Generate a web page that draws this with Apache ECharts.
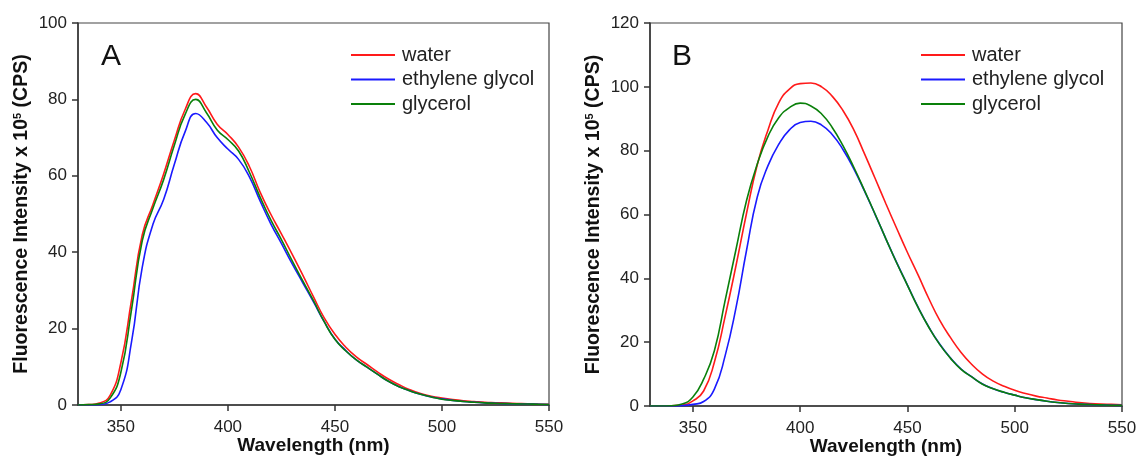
<!DOCTYPE html>
<html>
<head>
<meta charset="utf-8">
<script src="https://cdn.jsdelivr.net/npm/echarts@6/dist/echarts.min.js"></script>
<style>
  html, body { margin: 0; padding: 0; background: #fff; }
  #chart { width: 1136px; height: 456px; }
</style>
</head>
<body>
<div id="chart"></div>
<script>
// wavelength (nm), shared by both panels
var wavelengths = [330, 335, 340, 345, 350, 355, 360, 365, 370, 375, 380, 385, 390, 395, 400,
  405, 410, 415, 420, 425, 430, 435, 440, 445, 450, 455, 460, 465, 470, 475, 480,
  485, 490, 495, 500, 505, 510, 515, 520, 525, 530, 535, 540, 545, 550]
var xTicks = [350, 400, 450, 500, 550]
var seriesNames = ['water', 'ethylene glycol', 'glycerol']

// panel A
var waterA = [0, 0.1, 0.5, 2.5, 11, 27.5, 44.5, 52.5, 60.5, 69.3, 77.3, 81.5, 78, 73.5, 70.8,
  67.5, 62.5, 55.8, 50, 44.8, 39.5, 34, 28.3, 22.8, 18.5, 15.2, 12.6, 10.6, 8.6, 6.8, 5.3,
  4.0, 3.0, 2.3, 1.8, 1.4, 1.1, 0.9, 0.7, 0.6, 0.5, 0.4, 0.3, 0.25, 0.2]
var egA = [0, 0, 0.1, 0.8, 4, 16.5, 36, 47.3, 53.8, 63, 71.5, 76.3, 74, 70, 67,
  64.3, 59.8, 53.5, 47.5, 42.3, 37, 32, 27, 21.8, 17.3, 14.3, 11.8, 9.9, 8.0, 6.2, 4.8,
  3.7, 2.8, 2.1, 1.6, 1.2, 0.9, 0.7, 0.55, 0.45, 0.35, 0.3, 0.25, 0.2, 0.15]
var glyA = [0, 0.1, 0.3, 1.8, 8.5, 25, 43, 51.5, 59, 68, 76, 80, 76.5, 72, 69.5,
  66.5, 61, 54.5, 48.5, 43.3, 37.8, 32.5, 27.3, 21.8, 17.2, 14.2, 11.8, 9.9, 8.0, 6.2, 4.8,
  3.7, 2.8, 2.1, 1.5, 1.2, 0.9, 0.7, 0.55, 0.45, 0.35, 0.3, 0.25, 0.2, 0.15]

// panel B
var waterB = [0, 0, 0.1, 0.3, 1.6, 4.7, 13.7, 28, 43.7, 60.4, 75.6, 86.5, 95, 99.3, 101,
  101.2, 100, 97, 92.5, 86.5, 79, 71.2, 63.3, 55.6, 48.1, 41, 33.6, 26.9, 21.5, 16.8, 13.0,
  10.0, 7.8, 6.2, 4.9, 3.9, 3.1, 2.5, 1.9, 1.5, 1.1, 0.8, 0.6, 0.5, 0.4]
var egB = [0, 0, 0, 0.1, 0.5, 1.4, 5.3, 15.7, 30.5, 48.8, 65.5, 75.3, 82, 86.5, 88.8,
  89.2, 88, 85, 80.3, 74.3, 67.3, 59.9, 52.3, 44.9, 37.9, 30.9, 24.7, 19.4, 15.1, 11.6, 9.1,
  6.9, 5.4, 4.3, 3.4, 2.6, 2.0, 1.5, 1.1, 0.8, 0.6, 0.45, 0.35, 0.25, 0.2]
var glyB = [0, 0, 0.1, 0.6, 2.8, 8.4, 17.3, 33, 48.8, 64.4, 75.8, 84.5, 90.3, 93.5, 94.9,
  94, 91.5, 87.2, 81.5, 74.8, 67.5, 60, 52.3, 44.8, 37.8, 30.8, 24.6, 19.3, 15, 11.5, 9.1,
  6.8, 5.4, 4.3, 3.4, 2.6, 2.0, 1.5, 1.1, 0.8, 0.6, 0.45, 0.35, 0.25, 0.2]

var colors = ['#ff1a1a', '#1a1aff', '#0a800a']
var font = "'Liberation Sans', Arial, sans-serif"

function pairs (vals) {
  return wavelengths.map(function (w, i) { return [w, vals[i]] })
}

function xAxisFor (gridIndex) {
  return {
    gridIndex: gridIndex,
    type: 'value',
    min: 330,
    max: 550,
    name: 'Wavelength (nm)',
    nameLocation: 'middle',
    nameGap: 31,
    nameMoveOverlap: false,
    nameTextStyle: { fontFamily: font, fontSize: 19, fontWeight: 'bold', color: '#111' },
    axisLine: { show: true, lineStyle: { color: '#333', width: 1.5 } },
    axisTick: { show: true, inside: false, length: 6, customValues: xTicks, lineStyle: { color: '#333', width: 1.5 } },
    axisLabel: { customValues: xTicks, margin: 14, fontFamily: font, fontSize: 17, color: '#222' },
    splitLine: { show: false }
  }
}

function yAxisFor (gridIndex, max) {
  return {
    gridIndex: gridIndex,
    type: 'value',
    min: 0,
    max: max,
    interval: 20,
    name: 'Fluorescence Intensity x 10{sup|5} (CPS)',
    nameLocation: 'middle',
    nameGap: 46,
    nameTextStyle: {
      fontFamily: font, fontSize: 19.5, fontWeight: 'bold', color: '#111',
      rich: { sup: { fontFamily: font, fontSize: 11, fontWeight: 'bold', color: '#111', verticalAlign: 'top', padding: [0, 0, 9, 0] } }
    },
    axisLine: { show: true, lineStyle: { color: '#333', width: 1.5 } },
    axisTick: { show: true, inside: false, length: 6, lineStyle: { color: '#333', width: 1.5 } },
    axisLabel: { margin: 11, fontFamily: font, fontSize: 17, color: '#222' },
    splitLine: { show: false }
  }
}

function lineSeries (name, idx, vals, axisIndex) {
  return {
    name: name,
    type: 'line',
    xAxisIndex: axisIndex,
    yAxisIndex: axisIndex,
    data: pairs(vals),
    smooth: 0.5,
    showSymbol: false,
    silent: true,
    color: colors[idx],
    lineStyle: { width: 1.6, color: colors[idx] }
  }
}

function legendFor (left) {
  return {
    data: seriesNames,
    orient: 'vertical',
    left: left,
    top: 40,
    icon: 'rect',
    itemWidth: 44,
    itemHeight: 2,
    itemGap: 4.5,
    textStyle: { fontFamily: font, fontSize: 20, color: '#222', padding: [0, 0, 0, 2] }
  }
}

var chart = echarts.init(document.getElementById('chart'))
chart.setOption({
  animation: false,
  backgroundColor: '#fff',
  title: [
    { text: 'A', left: 96, top: 37, textStyle: { fontFamily: font, fontSize: 30, fontWeight: 'normal', color: '#111' } },
    { text: 'B', left: 667, top: 37, textStyle: { fontFamily: font, fontSize: 30, fontWeight: 'normal', color: '#111' } }
  ],
  legend: [legendFor(346), legendFor(916)],
  grid: [
    { left: 78, top: 23, width: 471, height: 382, containLabel: false, outerBoundsMode: 'none', show: true, borderColor: '#444', borderWidth: 1.2, backgroundColor: 'transparent' },
    { left: 650, top: 23, width: 472, height: 383, containLabel: false, outerBoundsMode: 'none', show: true, borderColor: '#444', borderWidth: 1.2, backgroundColor: 'transparent' }
  ],
  xAxis: [xAxisFor(0), xAxisFor(1)],
  yAxis: [yAxisFor(0, 100), yAxisFor(1, 120)],
  series: [
    lineSeries('water', 0, waterA, 0),
    lineSeries('ethylene glycol', 1, egA, 0),
    lineSeries('glycerol', 2, glyA, 0),
    lineSeries('water', 0, waterB, 1),
    lineSeries('ethylene glycol', 1, egB, 1),
    lineSeries('glycerol', 2, glyB, 1)
  ]
})
</script>
</body>
</html>
